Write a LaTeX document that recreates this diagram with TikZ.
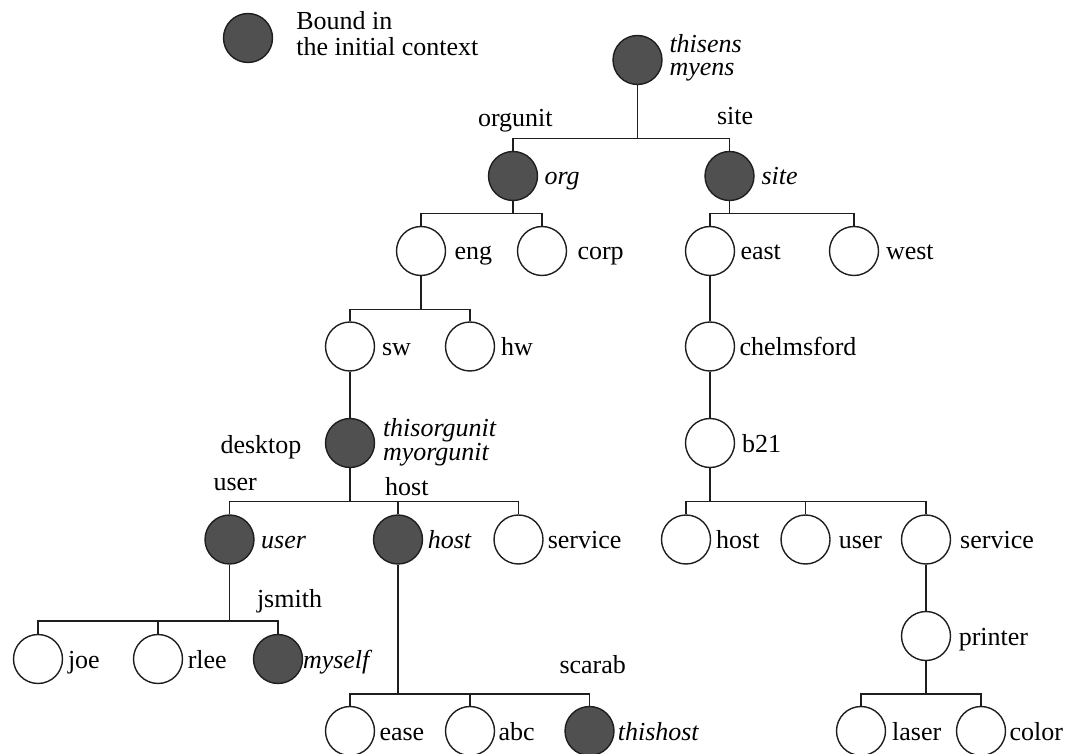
\documentclass[tikz,border=0pt]{standalone}
\usepackage{fontspec}
\setmainfont{Liberation Serif}
\begin{document}
\begin{tikzpicture}[x=1pt,y=-1pt,
  nd/.style={circle,draw=linec,line width=1.4pt,minimum size=49pt,inner sep=0pt,fill=white},
  bnd/.style={nd,fill=boundc},
  lbl/.style={anchor=base west,inner sep=0pt,outer sep=0pt,font=\fontsize{26}{25}\selectfont},
  ilbl/.style={lbl,font=\fontsize{26}{25}\selectfont\itshape},
  ilbltwo/.style={lbl,font=\fontsize{26}{23.5}\selectfont\itshape},
  edge/.style={draw=linec,line width=1.4pt}]
\definecolor{boundc}{RGB}{80,80,80}
\definecolor{linec}{RGB}{30,30,30}
\useasboundingbox (0,0) rectangle (1077,754);

% legend
\node[bnd] (leg) at (248,38) {};
\node[lbl,font=\fontsize{26}{25}\selectfont] (leg1) at (296.3,30) {\begin{tabular}[t]{@{}l@{}}Bound in\\the initial context\end{tabular}};

% nodes
\node[bnd] (thisens) at (637.5,60) {};
\node[bnd] (org) at (513,176) {};
\node[bnd] (site) at (729.5,176) {};
\node[nd] (eng) at (421,251) {};
\node[nd] (corp) at (542,251) {};
\node[nd] (east) at (710,251) {};
\node[nd] (west) at (854,251) {};
\node[nd] (sw) at (350,346.5) {};
\node[nd] (hw) at (470,346.5) {};
\node[nd] (chelm) at (710,346.5) {};
\node[bnd] (tou) at (350,443) {};
\node[nd] (b21) at (710,443) {};
\node[bnd] (user) at (229.5,539.5) {};
\node[bnd] (host) at (398,539.5) {};
\node[nd] (service) at (518.5,539.5) {};
\node[nd] (hostb) at (686,539.5) {};
\node[nd] (userb) at (805.5,539.5) {};
\node[nd] (serviceb) at (926,539.5) {};
\node[nd] (printer) at (926,636) {};
\node[nd] (joe) at (38,659) {};
\node[nd] (rlee) at (158,659) {};
\node[bnd] (myself) at (278,659) {};
\node[nd] (ease) at (350,731) {};
\node[nd] (abc) at (470,731) {};
\node[bnd] (thishost) at (589.5,731) {};
\node[nd] (laser) at (861,731) {};
\node[nd] (color) at (981,731) {};

% bus coordinates
\coordinate (b-root) at (637.5,138.3);
\coordinate (b-org) at (513,213.5);
\coordinate (b-site) at (729.5,213.3);
\coordinate (b-eng) at (421,309.5);
\coordinate (b-tou) at (350,501.5);
\coordinate (b-b21) at (710,501.5);
\coordinate (b-user) at (229.5,621);
\coordinate (b-host) at (398,694);
\coordinate (b-printer) at (926,694);

% connectors
\draw[edge] (thisens.south) -- (b-root);
\draw[edge] (org.north) -- (org.north |- b-root) -- (site.north |- b-root) -- (site.north);

\draw[edge] (org.south) -- (b-org);
\draw[edge] (eng.north) -- (eng.north |- b-org) -- (corp.north |- b-org) -- (corp.north);

\draw[edge] (site.south) -- (b-site);
\draw[edge] (east.north) -- (east.north |- b-site) -- (west.north |- b-site) -- (west.north);

\draw[edge] (eng.south) -- (b-eng);
\draw[edge] (sw.north) -- (sw.north |- b-eng) -- (hw.north |- b-eng) -- (hw.north);

\draw[edge] (sw.south) -- (tou.north);
\draw[edge] (east.south) -- (chelm.north);
\draw[edge] (chelm.south) -- (b21.north);

\draw[edge] (tou.south) -- (b-tou);
\draw[edge] (user.north) -- (user.north |- b-tou) -- (service.north |- b-tou) -- (service.north);
\draw[edge] (host.north) -- (host.north |- b-tou);

\draw[edge] (b21.south) -- (b-b21);
\draw[edge] (hostb.north) -- (hostb.north |- b-b21) -- (serviceb.north |- b-b21) -- (serviceb.north);
\draw[edge] (userb.north) -- (userb.north |- b-b21);

\draw[edge] (user.south) -- (b-user);
\draw[edge] (joe.north) -- (joe.north |- b-user) -- (myself.north |- b-user) -- (myself.north);
\draw[edge] (rlee.north) -- (rlee.north |- b-user);

\draw[edge] (host.south) -- (b-host);
\draw[edge] (ease.north) -- (ease.north |- b-host) -- (thishost.north |- b-host) -- (thishost.north);
\draw[edge] (abc.north) -- (abc.north |- b-host);

\draw[edge] (serviceb.south) -- (printer.north);
\draw[edge] (printer.south) -- (b-printer);
\draw[edge] (laser.north) -- (laser.north |- b-printer) -- (color.north |- b-printer) -- (color.north);

% labels
\node[ilbltwo] (l-thisens) at (669.5,52.5) {\begin{tabular}[t]{@{}l@{}}thisens\\myens\end{tabular}};
\node[lbl] (l-orgunit) at (478,126.5) {orgunit};
\node[lbl] (l-siteE) at (717,125) {site};
\node[ilbl] (l-org) at (544.5,185) {org};
\node[ilbl] (l-site) at (761.5,185) {site};
\node[lbl] (l-eng) at (454.5,260) {eng};
\node[lbl] (l-corp) at (577.5,260) {corp};
\node[lbl] (l-east) at (740.5,260) {east};
\node[lbl] (l-west) at (886,260) {west};
\node[lbl] (l-sw) at (382,355.5) {sw};
\node[lbl] (l-hw) at (501,355.5) {hw};
\node[lbl] (l-chelm) at (739.5,355) {chelmsford};
\node[lbl] (l-desktop) at (220.5,453) {desktop};
\node[ilbltwo] (l-tou) at (383,436.5) {\begin{tabular}[t]{@{}l@{}}thisorgunit\\myorgunit\end{tabular}};
\node[lbl] (l-b21) at (742.2,452.3) {b21};
\node[lbl] (l-userE) at (213.5,490) {user};
\node[lbl] (l-hostE) at (385.2,495) {host};
\node[ilbl] (l-user) at (261.2,548.5) {user};
\node[ilbl] (l-host) at (427.8,548.5) {host};
\node[lbl] (l-service) at (547.8,548.5) {service};
\node[lbl] (l-hostb) at (716.2,548.5) {host};
\node[lbl] (l-userb) at (838.8,548.5) {user};
\node[lbl] (l-serviceb) at (960.2,548.5) {service};
\node[lbl] (l-jsmith) at (257,607) {jsmith};
\node[lbl] (l-printer) at (958.8,645) {printer};
\node[lbl] (l-joe) at (68,668) {joe};
\node[lbl] (l-rlee) at (187.8,668) {rlee};
\node[ilbl] (l-myself) at (303,668) {myself};
\node[lbl] (l-scarab) at (559.5,673) {scarab};
\node[lbl] (l-ease) at (379.5,740.5) {ease};
\node[lbl] (l-abc) at (498.5,740.5) {abc};
\node[ilbl] (l-thishost) at (617.8,740.5) {thishost};
\node[lbl] (l-laser) at (892.2,740.5) {laser};
\node[lbl] (l-color) at (1009.5,740.5) {color};
\end{tikzpicture}
\end{document}
